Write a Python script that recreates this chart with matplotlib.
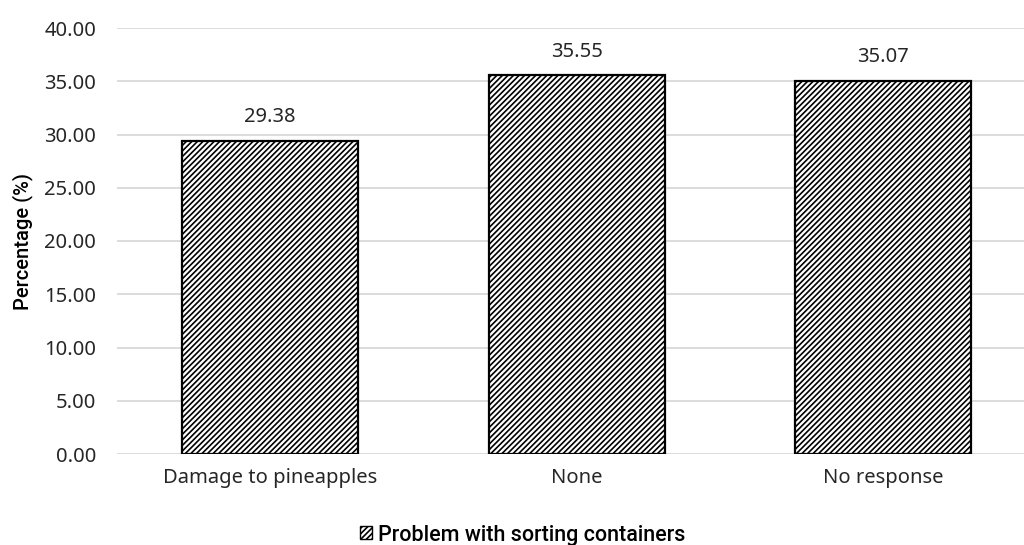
import matplotlib
matplotlib.use("Agg")
import matplotlib.pyplot as plt
from matplotlib.patches import Patch

categories = ["Damage to pineapples", "None", "No response"]
values = [29.38, 35.55, 35.07]
yticks = [0, 5, 10, 15, 20, 25, 30, 35, 40]
series_name = "Problem with sorting containers"

plt.rcParams['font.family'] = ['Noto Sans', 'DejaVu Sans']
plt.rcParams['hatch.linewidth'] = 1.2

fig = plt.figure(figsize=(10.24, 5.45), dpi=100)
ax = fig.add_axes([117 / 1024, 1 - 454 / 545, 1 - 117 / 1024, (454 - 28) / 545])

x = list(range(len(categories)))
ax.bar(x, values, width=0.575, color='white', edgecolor='black',
       linewidth=1.6, hatch='//////', zorder=3)

for xi, v in zip(x, values):
    ax.text(xi, v + 1.3, f"{v:.2f}", ha='center', va='bottom',
            fontsize=14.5, color='#262626')

ax.set_ylim(0, 40)
ax.set_xlim(-0.5, 2.46)
ax.set_yticks(yticks)
ax.set_yticklabels([f"{t:.2f}" for t in yticks])
ax.set_xticks(x)
ax.set_xticklabels(categories)
ax.tick_params(axis='both', length=0, labelsize=14.5, labelcolor='#262626')
ax.tick_params(axis='y', pad=15)
ax.tick_params(axis='x', pad=10)
ax.grid(axis='y', color='#d9d9d9', linewidth=1.3, zorder=0)
for s in ax.spines.values():
    s.set_visible(False)

ax.set_ylabel("Percentage (%)", fontsize=14.5, color='black', labelpad=8,
              fontweight='medium', family=['Roboto', 'DejaVu Sans'])

handle = Patch(facecolor='white', edgecolor='black', hatch='//////', label=series_name)
fig.legend(handles=[handle], loc='center', bbox_to_anchor=(523 / 1024, 1 - 535 / 545),
           frameon=False, handlelength=0.55, handleheight=0.55, handletextpad=0.3,
           prop={'weight': 'medium', 'size': 15.5, 'family': ['Roboto', 'DejaVu Sans']})

fig.savefig("out.png", dpi=100)
